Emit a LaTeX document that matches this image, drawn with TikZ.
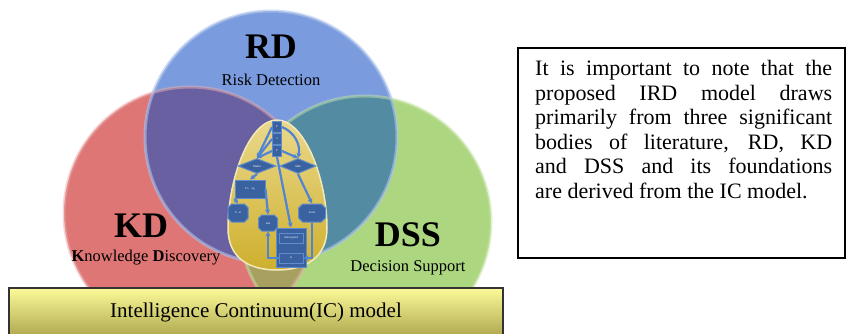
\documentclass[tikz,border=0pt]{standalone}
\usepackage{fontspec}
\setmainfont{Liberation Serif}
\usetikzlibrary{arrows.meta, positioning, shapes.geometric, shapes.misc}
\definecolor{kdred}{RGB}{222,118,118}
\definecolor{rdblue}{RGB}{122,156,222}
\definecolor{dssgreen}{RGB}{172,215,128}
\definecolor{rdkd}{RGB}{105,96,162}
\definecolor{rddss}{RGB}{82,139,162}
\definecolor{kddss}{RGB}{168,160,96}
\definecolor{allthree}{RGB}{92,100,120}
\definecolor{eggtop}{RGB}{234,216,140}
\definecolor{eggbot}{RGB}{206,176,45}
\definecolor{flowblue}{RGB}{58,98,160}
\definecolor{flowedge}{RGB}{96,140,205}
\definecolor{arrowblue}{RGB}{80,132,212}
\definecolor{ictop}{RGB}{252,250,152}
\definecolor{icbot}{RGB}{168,162,74}
\tikzstyle{big-label}=[font=\fontsize{36}{40}\selectfont\bfseries, inner sep=0pt]
\tikzstyle{sub-label}=[font=\fontsize{16.5}{19}\selectfont, inner sep=0pt]
\tikzstyle{flow-box}=[fill=flowblue, draw=flowedge, line width=1pt, rectangle, inner sep=0pt, text=white, font=\fontsize{3}{3.5}\selectfont]
\tikzstyle{flow-dia}=[flow-box, diamond, aspect=2.8]
\tikzstyle{flow-hex}=[flow-box, chamfered rectangle, chamfered rectangle xsep=2pt]
\tikzstyle{flow-arrow}=[draw=arrowblue, line width=2.2pt, -{Stealth[length=5pt,width=5pt]}]

\begin{document}
\begin{tikzpicture}[x=1pt, y=-1pt]
\useasboundingbox (0,0) rectangle (848,333);

\fill[kdred] (190,213) circle (126);
\fill[dssgreen] (365,222) circle (126);
\fill[rdblue] (271,137) circle (126);
\begin{scope}
  \clip (190,213) circle (126);
  \fill[kddss] (365,222) circle (126);
  \fill[rdkd] (271,137) circle (126);
  \clip (365,222) circle (126);
  \fill[allthree] (271,137) circle (126);
\end{scope}
\begin{scope}
  \clip (365,222) circle (126);
  \fill[rddss] (271,137) circle (126);
  \clip (190,213) circle (126);
  \fill[allthree] (271,137) circle (126);
\end{scope}
\draw[kdred!60, line width=3pt, opacity=0.5] (190,213) circle (126);
\draw[dssgreen!70, line width=3pt, opacity=0.5] (365,222) circle (126);
\draw[rdblue!60, line width=3pt, opacity=0.6] (271,137) circle (126);

\node[big-label] (rd) at (271,47) {RD};
\node[sub-label] (rdsub) at (271,80) {Risk Detection};
\node[big-label] (kd) at (141,226) {KD};
\node[sub-label] (kdsub) at (146,258) {\textbf{K}nowledge \textbf{D}iscovery};
\node[big-label] (dss) at (408,235) {DSS};
\node[sub-label] (dsssub) at (408,268) {Decision Support};

\shade[top color=eggtop, bottom color=eggbot, draw=eggtop!60, line width=1.5pt]
  (277,120) .. controls (305,120) and (327,180) .. (327,228)
  .. controls (327,258) and (305,270) .. (277,270)
  .. controls (249,270) and (228,258) .. (228,228)
  .. controls (228,180) and (249,120) .. (277,120);

\foreach \y/\t [count=\i] in {127/F, 139/I, 151/F}
  \node[flow-box, minimum width=9, minimum height=11] (stack\i) at (277,\y) {\t};
\node[flow-dia, minimum width=38, minimum height=15] (makel) at (257,166) {Makin};
\node[flow-dia, minimum width=36, minimum height=15] (maker) at (298,166) {Mak};
\node[flow-box, minimum width=30, minimum height=18] (fore) at (250,189) {Fo\quad ng};
\node[flow-hex, minimum width=20, minimum height=18] (fmt) at (238,213) {F\ \ at};
\node[flow-hex, minimum width=19, minimum height=16] (incl) at (268,223) {ude};
\node[flow-hex, minimum width=27, minimum height=18] (act) at (312,213) {Actio};
\node[flow-box, minimum width=30, minimum height=39] (antic) at (291,247.5) {};
\node[flow-box, minimum width=24, minimum height=10] (antt) at (291,238) {Anticipated};
\node[flow-box, minimum width=24, minimum height=10] (anta) at (291,258) {A};

\draw[flow-arrow] (stack1.west) -- (makel.north);
\draw[flow-arrow] (stack2.west) -- (makel.north);
\draw[flow-arrow] (stack3.west) -- (makel.north);
\draw[flow-arrow] (stack1.east) to[bend left=40] (maker.north);
\draw[flow-arrow] (stack3.east) -- (maker.north);
\draw[flow-arrow] (stack3.south) -- (antic.north);
\draw[flow-arrow] (maker.south) -- (act.north);
\draw[flow-arrow] (makel.south) -- (fore.north);
\draw[flow-arrow] (fore.east) -- (incl.north);
\draw[flow-arrow] (fore.south west) -- (fmt.north);
\draw[flow-arrow] (act.south) |- (anta.east);
\draw[flow-arrow] (anta.west) -| (incl.south);

\shade[top color=ictop, bottom color=icbot, draw=black!80, line width=1.5pt]
  (9,288) rectangle (503,340);
\node[font=\fontsize{21}{24}\selectfont] (ic) at (256,312) {Intelligence Continuum(IC) model};

\draw[black, line width=1.5pt] (518,48) rectangle (845,258);
\node[anchor=north west, text width=297pt, align=justify, inner sep=0pt,
  font=\fontsize{22}{24.6}\selectfont] (note) at (535,60)
  {\hyphenpenalty=10000\relax It is important to note that the\linebreak proposed IRD model draws\linebreak primarily from three significant\linebreak bodies of literature, RD, KD\linebreak and DSS and its foundations\linebreak are derived from the IC model.};
\end{tikzpicture}
\end{document}
